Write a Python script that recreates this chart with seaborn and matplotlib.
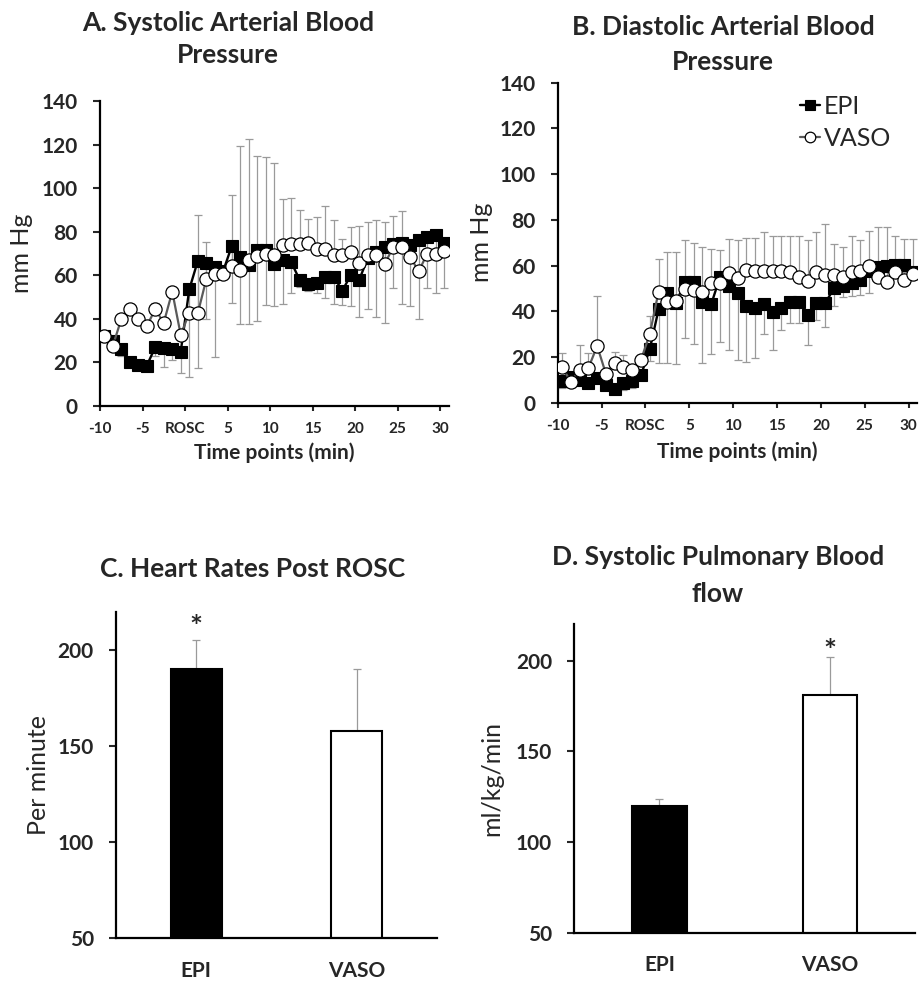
import numpy as np
import pandas as pd
import seaborn as sns
import matplotlib.pyplot as plt

sns.set_theme(style="ticks")
plt.rcParams["font.family"] = ["Lato", "DejaVu Sans"]

W, H = 922, 982

# 41 one-minute time points, -10 min .. +30 min around ROSC
minutes = list(range(-10, 31))
tick_labels = ["-10", "-5", "ROSC", "5", "10", "15", "20", "25", "30"]

# A. systolic arterial pressure (mm Hg)
sbp_epi = [32, 30, 26, 20, 19, 18.5, 27, 26.5, 26, 25, 53.5, 66.5, 65.8, 64, 62,
           73.4, 68.3, 64.7, 71.6, 71.6, 65, 67, 66, 57.8, 56, 56.3, 59.4, 59.4,
           52.9, 60, 58, 67.8, 70.8, 73, 74.4, 75, 74, 76.2, 77.7, 78.5, 75]
sbp_epi_sd = [2, 3, 3, 2, 2, 2, 4, 8.5, 5, 10, 40, 49, 26, 41.5, 3, 26, 30.6, 27,
              32.6, 25.2, 19, 20, 14.3, 3, 3, 4.6, 10, 12.6, 6.5, 14, 17.3, 23.4,
              29.8, 35, 20.4, 28.2, 28, 36.4, 23.7, 26.5, 21]
sbp_vaso = [32.1, 27.5, 39.8, 44.4, 39.8, 36.7, 44.4, 38.2, 52.5, 32.6, 42.8, 42.5,
            58.1, 60.6, 60.6, 64.3, 62.4, 67, 68.8, 69.8, 69.3, 74, 74.2, 74.4, 75,
            71.9, 71.9, 69.5, 69.3, 70.8, 65.8, 69.5, 69.3, 65.2, 73, 73.2, 68.3,
            61.8, 70, 69.9, 71.3]
sbp_vaso_sd = [0, 0, 0, 0, 0, 3, 3, 2, 0, 0, 0, 45.2, 17, 3, 3, 32.5, 57, 55.4, 46,
               44.3, 42.4, 21, 21.4, 15.6, 10.8, 15, 19.9, 16, 7.5, 11.5, 16.8, 14.8,
               15.9, 19.4, 14, 16.5, 2, 2, 2, 2, 2]

# B. diastolic arterial pressure (mm Hg)
dbp_epi = [9.4, 11.4, 9.9, 8.5, 10.7, 7.9, 5.8, 8.5, 9.5, 12.1, 23.4, 40.8, 47.9,
           43.6, 53, 52.8, 44, 43, 55, 51, 47.9, 42.5, 41.3, 43.2, 39.5, 41.5, 44.2,
           44.2, 38.4, 43.6, 43.6, 50, 51, 52.4, 53.7, 57.4, 59.5, 60, 60.3, 60.3, 57]
dbp_epi_sd = [3, 2, 2, 2, 2, 2, 1.5, 3, 3, 2, 5, 23.6, 30.4, 26.7, 24.8, 27.1, 26.5,
              21.7, 28.3, 28, 29.2, 24.5, 21.9, 13.2, 16.5, 9.7, 9.2, 9.2, 13.1, 7.4,
              10.3, 7.7, 4.9, 5.7, 6.5, 9.2, 3, 3, 3, 3, 3]
dbp_vaso = [15.5, 9.2, 14.2, 15.2, 24.8, 12.6, 17.4, 15.8, 14.3, 18.8, 30, 48.6, 44,
            44.5, 49.6, 49.4, 48.5, 52.2, 52.4, 56.8, 54.6, 57.9, 57.8, 57.4, 57.8,
            57.4, 57, 55, 53.4, 57, 55.9, 55.9, 55.2, 57, 57.8, 59.9, 54.9, 53, 57,
            53.7, 56.4]
dbp_vaso_sd = [6.3, 2, 11, 6.4, 21.9, 2, 4.9, 5.1, 2, 2, 8, 14.2, 22, 21.6, 21.6,
               20.4, 19.8, 15, 14.5, 14.7, 16.6, 14.1, 14.2, 17.1, 15.2, 15.6, 16, 18,
               17.6, 17.5, 22.3, 13.6, 12.8, 16, 13.2, 15.4, 22.1, 24, 16, 17.8, 15.1]

# C / D. bar panels
groups = ["EPI", "VASO"]
hr_mean = [190.5, 158.0]
hr_sd = [15.0, 32.5]
pbf_mean = [120.0, 181.3]
pbf_sd = [3.7, 20.5]

ERR = "#9a9a9a"


def px_rect(left, top, right, bottom):
    return [left / W, 1 - bottom / H, (right - left) / W, (bottom - top) / H]


def bold_ticks(ax):
    for lbl in ax.get_xticklabels() + ax.get_yticklabels():
        lbl.set_fontweight("bold")


def style_axes(ax):
    sns.despine(ax=ax)
    for side in ("left", "bottom"):
        ax.spines[side].set_linewidth(1.6)
        ax.spines[side].set_color("black")


def draw_time(ax, epi, epi_sd, vaso, vaso_sd):
    pos = np.arange(len(minutes))
    zero = np.zeros(len(pos))
    ax.errorbar(pos, epi, yerr=[epi_sd, zero], fmt="none", ecolor=ERR,
                elinewidth=0.9, capsize=2.8, capthick=0.9, zorder=1)
    ax.errorbar(pos, vaso, yerr=[zero, vaso_sd], fmt="none", ecolor=ERR,
                elinewidth=0.9, capsize=2.8, capthick=0.9, zorder=1)
    sns.lineplot(x=pos, y=epi, ax=ax, color="black", lw=1.7, marker="s",
                 markersize=8.3, markeredgecolor="black", markeredgewidth=0.8,
                 label="EPI", legend=False, zorder=3)
    sns.lineplot(x=pos, y=vaso, ax=ax, color="#5a5a5a", lw=1.6, marker="o",
                 markersize=9.5, markerfacecolor="white", markeredgecolor="black",
                 markeredgewidth=0.9, label="VASO", legend=False, zorder=4)
    ax.set_xlim(-0.5, len(pos) - 0.5)
    ax.set_ylim(0, 140)
    ax.set_yticks(range(0, 141, 20))
    ax.set_xticks(np.arange(-0.5, len(pos) - 1, 5))
    ax.set_xticklabels(tick_labels)
    ax.tick_params(axis="x", length=3.5, width=1.5, pad=8, labelsize=11)
    ax.tick_params(axis="y", length=5, width=1.5, pad=11, labelsize=15)
    ax.set_xlabel("Time points (min)", fontsize=15, fontweight="bold")
    ax.set_ylabel("mm Hg", fontsize=18)
    ax.xaxis.set_label_coords(0.5, -0.12)
    style_axes(ax)
    bold_ticks(ax)


def draw_bars(ax, means, sds, ylabel, star_idx, star_y, label_x):
    df = pd.DataFrame({"group": groups, "value": means})
    sns.barplot(data=df, x="group", y="value", hue="group",
                palette=["black", "white"], edgecolor="black", linewidth=1.5,
                width=0.32, errorbar=None, legend=False, ax=ax, zorder=2)
    ax.errorbar([0, 1], means, yerr=[[0, 0], sds], fmt="none", ecolor=ERR,
                elinewidth=0.9, capsize=2.8, capthick=0.9, zorder=1)
    ax.text(star_idx, star_y, "*", ha="center", va="baseline", fontsize=22,
            fontweight="bold")
    ax.set_xlim(-0.5, 1.5)
    ax.set_ylim(50, 220)
    ax.set_yticks([50, 100, 150, 200])
    ax.tick_params(axis="x", length=0, pad=16, labelsize=15)
    ax.tick_params(axis="y", length=5, width=1.5, pad=11, labelsize=15)
    ax.set_xlabel("")
    ax.set_ylabel(ylabel, fontsize=18)
    ax.yaxis.set_label_coords(label_x, 0.5)
    style_axes(ax)
    bold_ticks(ax)


fig = plt.figure(figsize=(W / 100, H / 100), dpi=100)

ax_a = fig.add_axes(px_rect(100, 101, 448.5, 406))
draw_time(ax_a, sbp_epi, sbp_epi_sd, sbp_vaso, sbp_vaso_sd)
ax_a.yaxis.set_label_coords(-0.192, 0.5)

ax_b = fig.add_axes(px_rect(557.7, 82.7, 917.3, 402.7))
draw_time(ax_b, dbp_epi, dbp_epi_sd, dbp_vaso, dbp_vaso_sd)
ax_b.yaxis.set_label_coords(-0.18, 0.5)
ax_b.legend(loc="upper left", bbox_to_anchor=(0.674, 0.962), frameon=False,
            fontsize=18, borderaxespad=0, borderpad=0, handlelength=0.8,
            handletextpad=0.15, labelspacing=0.35, markerscale=0.8)

ax_c = fig.add_axes(px_rect(116, 612, 436.7, 938.3))
draw_bars(ax_c, hr_mean, hr_sd, "Per minute", 0, 207, -0.206)

ax_d = fig.add_axes(px_rect(574.3, 624.3, 915, 932.7))
draw_bars(ax_d, pbf_mean, pbf_sd, "ml/kg/min", 1, 200, -0.209)

titles = [
    (228, 31, "A. Systolic Arterial Blood"),
    (228, 63, "Pressure"),
    (723, 35, "B. Diastolic Arterial Blood"),
    (723, 70, "Pressure"),
    (253, 577, "C. Heart Rates Post ROSC"),
    (718, 565, "D. Systolic Pulmonary Blood"),
    (718, 602, "flow"),
]
for x, y, s in titles:
    fig.text(x / W, 1 - y / H, s, ha="center", va="baseline",
             fontsize=19, fontweight="bold")

fig.savefig("out.png", dpi=100, facecolor="white")
